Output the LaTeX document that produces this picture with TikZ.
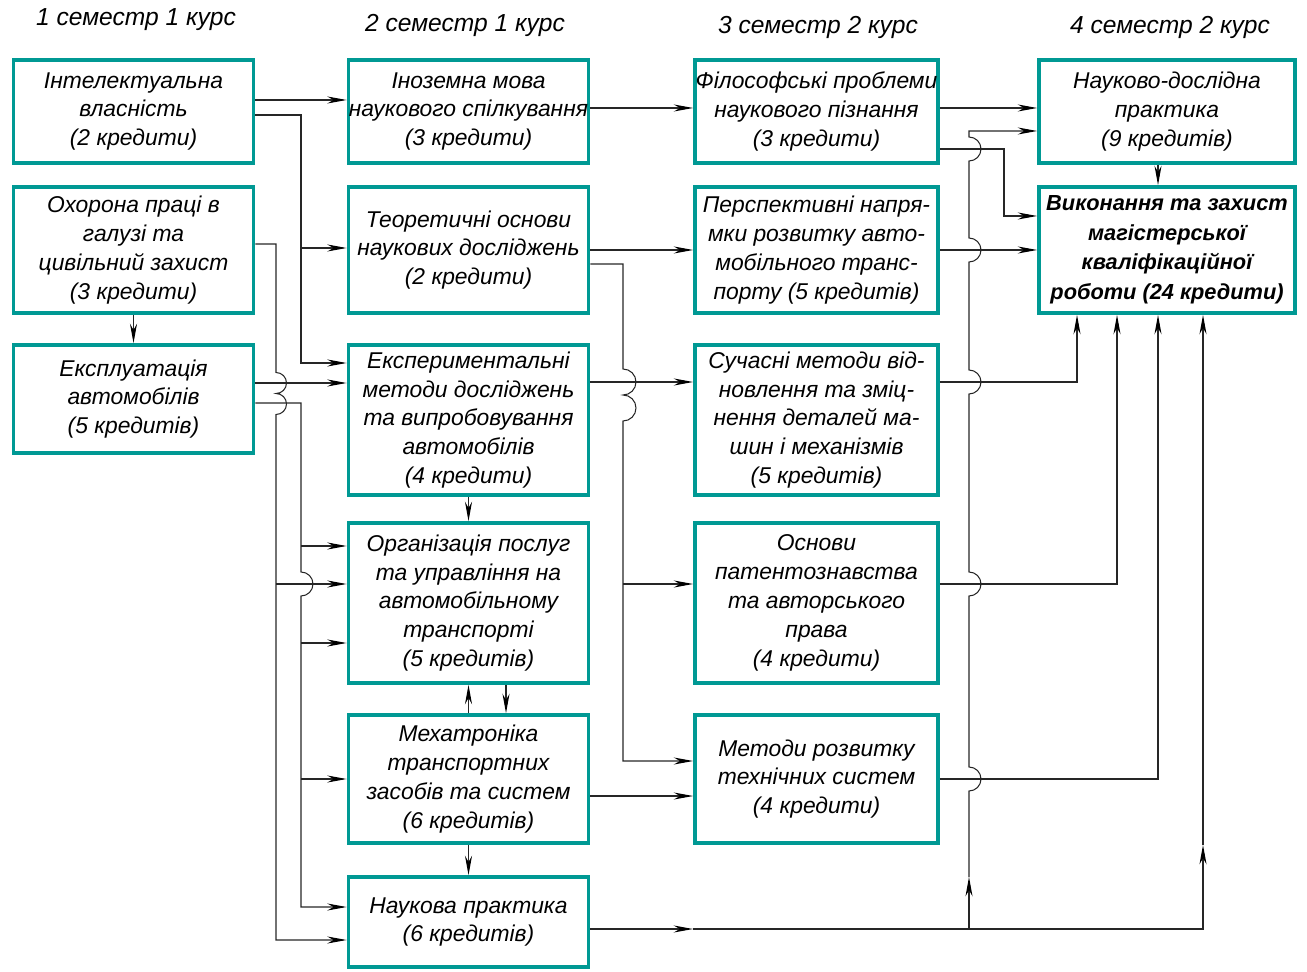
\documentclass[tikz,border=0pt]{standalone}
\usepackage{fontspec}
\setmainfont{Liberation Sans}
\usetikzlibrary{calc, arrows.meta}
\definecolor{boxteal}{RGB}{0,153,148}

\begin{document}
\begin{tikzpicture}[x=0.02cm, y=-0.02cm,
    box/.style={draw=boxteal, line width=2.2pt, align=center, inner sep=0pt,
      font=\itshape\fontsize{13}{16.4}\selectfont},
    colA/.style={box, minimum width=4.8cm},
    colC/.style={box, minimum width=4.86cm},
    colD/.style={box, minimum width=5.12cm},
    head/.style={font=\itshape\fontsize{14}{16}\selectfont},
    wire/.style={draw=black!85, line width=0.6pt},
    >={Stealth[length=11pt,width=4pt,color=black]}]

  \useasboundingbox (0,0) rectangle (1307,972);

  \node[head] (h1) at (136,20) {1 семестр 1 курс};
  \node[head] (h2) at (465,25) {2 семестр 1 курс};
  \node[head] (h3) at (818,27) {3 семестр 2 курс};
  \node[head] (h4) at (1170,27) {4 семестр 2 курс};

  \node[colA, minimum height=2.06cm] (A1) at (133.5,111.5) {Інтелектуальна\\власність\\(2 кредити)};
  \node[colA, minimum height=2.52cm] (A2) at (133.5,250) {Охорона праці в\\галузі та\\цивільний захист\\(3 кредити)};
  \node[colA, minimum height=2.16cm] (A3) at (133.5,399) {Експлуатація\\автомобілів\\(5 кредитів)};

  \node[colA, minimum height=2.06cm] (B1) at (468.5,111.5) {Іноземна мова\\наукового спілкування\\(3 кредити)};
  \node[colA, minimum height=2.52cm] (B2) at (468.5,250) {Теоретичні основи\\наукових досліджень\\(2 кредити)};
  \node[colA, minimum height=3.0cm] (B3) at (468.5,420) {Експериментальні\\методи досліджень\\та випробовування\\автомобілів\\(4 кредити)};
  \node[colA, minimum height=3.2cm] (B4) at (468.5,603) {Організація послуг\\та управління на\\автомобільному\\транспорті\\(5 кредитів)};
  \node[colA, minimum height=2.56cm] (B5) at (468.5,779) {Мехатроніка\\транспортних\\засобів та систем\\(6 кредитів)};
  \node[colA, minimum height=1.8cm] (B6) at (468.5,922) {Наукова практика\\(6 кредитів)};

  \node[colC, minimum height=2.06cm] (C1) at (816.5,111.5) {Філософські проблеми\\наукового пізнання\\(3 кредити)};
  \node[colC, minimum height=2.52cm] (C2) at (816.5,250) {Перспективні напря-\\мки розвитку авто-\\мобільного транс-\\порту (5 кредитів)};
  \node[colC, minimum height=3.0cm] (C3) at (816.5,420) {Сучасні методи від-\\новлення та зміц-\\нення деталей ма-\\шин і механізмів\\(5 кредитів)};
  \node[colC, minimum height=3.2cm] (C4) at (816.5,603) {Основи\\патентознавства\\та авторського\\права\\(4 кредити)};
  \node[colC, minimum height=2.56cm] (C5) at (816.5,779) {Методи розвитку\\технічних систем\\(4 кредити)};

  \node[colD, minimum height=2.06cm] (D1) at (1167,111.5) {Науково-дослідна\\практика\\(9 кредитів)};
  \node[colD, minimum height=2.52cm, font=\bfseries\itshape\fontsize{12.4}{16.8}\selectfont] (D2) at (1167,250) {Виконання та захист\\магістерської\\кваліфікаційної\\роботи (24 кредити)};

  \draw[wire,->] (A1.east |- 0,100) -- (B1.west |- 0,100);
  \draw[wire,->] (A1.east |- 0,115) -| (301,363) -- (B3.west |- 0,363);
  \draw[wire,->] (301,248) -- (B2.west |- 0,248);
  \draw[wire,->] (A2.east |- 0,244) -| (276,372.5) arc[start angle=-90, end angle=90, radius=10.5]
    arc[start angle=-90, end angle=90, radius=10.5] |- (B6.west |- 0,940);
  \draw[wire,->] (276,584) -- (B4.west |- 0,584);
  \draw[wire,->] (A3.east |- 0,383) -- (B3.west |- 0,383);
  \draw[wire,->] (A3.east |- 0,403) -| (301,572) arc[start angle=-90, end angle=90, radius=12]
    |- (B6.west |- 0,907);
  \draw[wire,->] (301,546) -- (B4.west |- 0,546);
  \draw[wire,->] (301,643) -- (B4.west |- 0,643);
  \draw[wire,->] (301,779) -- (B5.west |- 0,779);
  \draw[wire,->] (A2.south) -- (A3.north);

  \draw[wire,->] (B3.south) -- (B4.north);
  \draw[wire,->] (B5.north) -- (B4.south);
  \draw[wire,->] (B4.south -| 506,0) -- (B5.north -| 506,0);
  \draw[wire,->] (B5.south) -- (B6.north);

  \draw[wire,->] (B1.east |- 0,108) -- (C1.west |- 0,108);
  \draw[wire,->] (B2.east |- 0,250) -- (C2.west |- 0,250);
  \draw[wire,->] (B2.east |- 0,264) -| (623,369) arc[start angle=-90, end angle=90, radius=13]
    arc[start angle=-90, end angle=90, radius=13] |- (C5.west |- 0,761);
  \draw[wire,->] (623,584) -- (C4.west |- 0,584);
  \draw[wire,->] (B3.east |- 0,382) -- (C3.west |- 0,382);
  \draw[wire,->] (B5.east |- 0,796) -- (C5.west |- 0,796);

  \draw[wire,->] (B6.east |- 0,929) -- (693,929);
  \draw[wire,->] (693,929) -| (1203,845);
  \draw[wire,->] (1203,845) -- (D2.south -| 1203,0);
  \draw[wire,->] (969,929) -- (969,877);
  \draw[wire,->] (969,877) -- (969,791) arc[start angle=90, end angle=-90, radius=12]
    -- (969,596) arc[start angle=90, end angle=-90, radius=12]
    -- (969,394) arc[start angle=90, end angle=-90, radius=12]
    -- (969,262) arc[start angle=90, end angle=-90, radius=12]
    -- (969,161) arc[start angle=90, end angle=-90, radius=12]
    -- (969,131) -- (D1.west |- 0,131);

  \draw[wire,->] (C1.east |- 0,108) -- (D1.west |- 0,108);
  \draw[wire,->] (C1.east |- 0,149) -| (1004,216) -- (D2.west |- 0,216);
  \draw[wire,->] (C2.east |- 0,250) -- (D2.west |- 0,250);
  \draw[wire,->] (C3.east |- 0,382) -| (D2.south -| 1077,0);
  \draw[wire,->] (C4.east |- 0,584) -| (D2.south -| 1117,0);
  \draw[wire,->] (C5.east |- 0,779) -| (D2.south -| 1158,0);
  \draw[wire,->] (D1.south -| 1158,0) -- (D2.north -| 1158,0);
\end{tikzpicture}
\end{document}
